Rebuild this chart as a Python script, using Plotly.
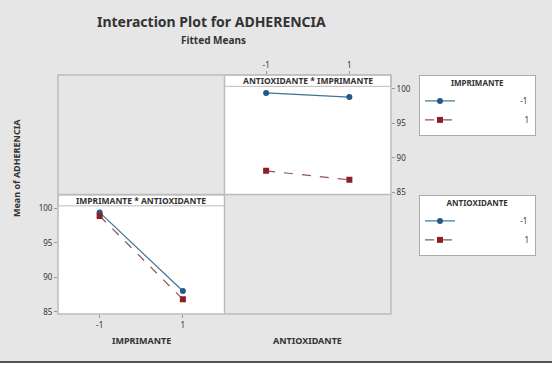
import plotly.graph_objects as go

# Data (fitted means)
levels = [-1, 1]
tick_labels = ["-1", "1"]
y_ticks = [85, 90, 95, 100]
# Panel IMPRIMANTE * ANTIOXIDANTE: x = IMPRIMANTE, series = ANTIOXIDANTE
imp_x_antiox_m1 = [99.4, 88.0]
imp_x_antiox_p1 = [98.9, 86.8]
# Panel ANTIOXIDANTE * IMPRIMANTE: x = ANTIOXIDANTE, series = IMPRIMANTE
antiox_x_imp_m1 = [99.4, 98.8]
antiox_x_imp_p1 = [88.1, 86.8]
series_names = ["-1", "1"]

BLUE = "#22598a"
RED = "#8c1f24"
BLUE_L = "#3f7296"
RED_L = "#8a5656"
GRID = "#bcbcbc"
BG = "#e6e6e6"
FONT = "Noto Sans"
NB = "\u00a0"

fig = go.Figure()

def pad(s):
    return NB * (29 if s.startswith("-") else 31) + s

# bottom-left panel
fig.add_trace(go.Scatter(x=levels, y=imp_x_antiox_m1, mode="lines+markers", name=pad(series_names[0]),
                         line=dict(color=BLUE_L, width=1.2), marker=dict(color=BLUE, size=6, symbol="circle"),
                         xaxis="x", yaxis="y", legend="legend2"))
fig.add_trace(go.Scatter(x=levels, y=imp_x_antiox_p1, mode="lines+markers", name=pad(series_names[1]),
                         line=dict(color=RED_L, width=1.2, dash="dash"), marker=dict(color=RED, size=6, symbol="square"),
                         xaxis="x", yaxis="y", legend="legend2"))
# top-right panel
fig.add_trace(go.Scatter(x=levels, y=antiox_x_imp_m1, mode="lines+markers", name=pad(series_names[0]),
                         line=dict(color=BLUE_L, width=1.2), marker=dict(color=BLUE, size=6, symbol="circle"),
                         xaxis="x2", yaxis="y2", legend="legend"))
fig.add_trace(go.Scatter(x=levels, y=antiox_x_imp_p1, mode="lines+markers", name=pad(series_names[1]),
                         line=dict(color=RED_L, width=1.2, dash="dash"), marker=dict(color=RED, size=6, symbol="square"),
                         xaxis="x2", yaxis="y2", legend="legend"))

tickfont = dict(family=FONT, size=8, color="#333")
common_x = dict(range=[-2, 2], tickvals=levels, ticktext=tick_labels, ticks="outside", ticklen=3,
                tickcolor="#999", showgrid=False, zeroline=False, showline=False, tickfont=tickfont, fixedrange=True)
common_y = dict(range=[84.67, 102.0], tickvals=y_ticks, ticks="outside", ticklen=3,
                tickcolor="#999", showgrid=False, zeroline=False, showline=False, tickfont=tickfont, fixedrange=True)

shapes = []
# strips
shapes.append(dict(type="rect", xref="x domain", yref="y domain", x0=0, x1=1, y0=0.905, y1=0.995,
                   fillcolor="white", line=dict(color=GRID, width=1), layer="above"))
shapes.append(dict(type="rect", xref="x2 domain", yref="y2 domain", x0=0, x1=1, y0=0.905, y1=1.0,
                   fillcolor="white", line=dict(color=GRID, width=1), layer="above"))
# grid borders
shapes.append(dict(type="rect", xref="paper", yref="paper", x0=0, x1=1, y0=0, y1=1,
                   line=dict(color=GRID, width=1.5)))
shapes.append(dict(type="line", xref="paper", yref="paper", x0=0.5, x1=0.5, y0=0, y1=1,
                   line=dict(color=GRID, width=1.5)))
shapes.append(dict(type="line", xref="paper", yref="paper", x0=0, x1=1, y0=0.5, y1=0.5,
                   line=dict(color=GRID, width=1.5)))
# bottom white band with dark line
shapes.append(dict(type="rect", xref="paper", yref="paper", x0=-0.2, x1=1.5, y0=-0.25, y1=-0.2008,
                   fillcolor="white", line=dict(width=0)))
shapes.append(dict(type="line", xref="paper", yref="paper", x0=-0.2, x1=1.5, y0=-0.2008, y1=-0.2008,
                   line=dict(color="#555", width=2)))

strip_font = dict(family=FONT, size=8.5, color="#333")
lab_font = dict(family=FONT, size=9, color="#333")
annotations = [
    dict(text="<b>Interaction Plot for ADHERENCIA</b>", xref="paper", yref="paper", x=0.462, y=1.222,
         showarrow=False, font=dict(family=FONT, size=14, color="#333"), xanchor="center", yanchor="middle"),
    dict(text="<b>Fitted Means</b>", xref="paper", yref="paper", x=0.468, y=1.146,
         showarrow=False, font=dict(family=FONT, size=10, color="#333"), xanchor="center", yanchor="middle"),
    dict(text="<b>IMPRIMANTE * ANTIOXIDANTE</b>", xref="x domain", yref="y domain", x=0.5, y=0.95,
         showarrow=False, font=strip_font, xanchor="center", yanchor="middle"),
    dict(text="<b>ANTIOXIDANTE * IMPRIMANTE</b>", xref="x2 domain", yref="y2 domain", x=0.5, y=0.953,
         showarrow=False, font=strip_font, xanchor="center", yanchor="middle"),
    dict(text="<b>IMPRIMANTE</b>", xref="paper", yref="paper", x=0.25, y=-0.109,
         showarrow=False, font=lab_font, xanchor="center", yanchor="middle"),
    dict(text="<b>ANTIOXIDANTE</b>", xref="paper", yref="paper", x=0.75, y=-0.109,
         showarrow=False, font=lab_font, xanchor="center", yanchor="middle"),
    dict(text="<b>Mean of ADHERENCIA</b>", xref="paper", yref="paper", x=-0.123, y=0.611,
         showarrow=False, font=lab_font, textangle=-90, xanchor="center", yanchor="middle"),
]

leg_common = dict(bgcolor="white", bordercolor="#aaaaaa", borderwidth=1,
                  font=dict(family=FONT, size=8, color="#333"), xanchor="left", yanchor="top",
                  tracegroupgap=0, itemclick=False, itemdoubleclick=False)

fig.update_layout(
    width=552, height=368,
    margin=dict(l=58, r=161, t=75, b=54, autoexpand=False),
    paper_bgcolor=BG, plot_bgcolor="white",
    xaxis=dict(domain=[0, 0.5], anchor="y", side="bottom", **common_x),
    yaxis=dict(domain=[0, 0.5], anchor="x", side="left", **common_y),
    xaxis2=dict(domain=[0.5, 1], anchor="y2", side="top", **common_x),
    yaxis2=dict(domain=[0.5, 1], anchor="x2", side="right", **common_y),
    shapes=shapes, annotations=annotations,
    legend=dict(x=1.084, y=1.0, title=dict(text="<b>IMPRIMANTE</b>", side="top center",
                font=dict(family=FONT, size=8, color="#333")), **leg_common),
    legend2=dict(x=1.084, y=0.498, title=dict(text="<b>ANTIOXIDANTE</b>", side="top center",
                 font=dict(family=FONT, size=8, color="#333")), **leg_common),
    showlegend=True,
)

fig.write_html("out.html", config={"displayModeBar": False},
               post_script="document.body.style.margin='0px';document.body.style.overflow='hidden';")
